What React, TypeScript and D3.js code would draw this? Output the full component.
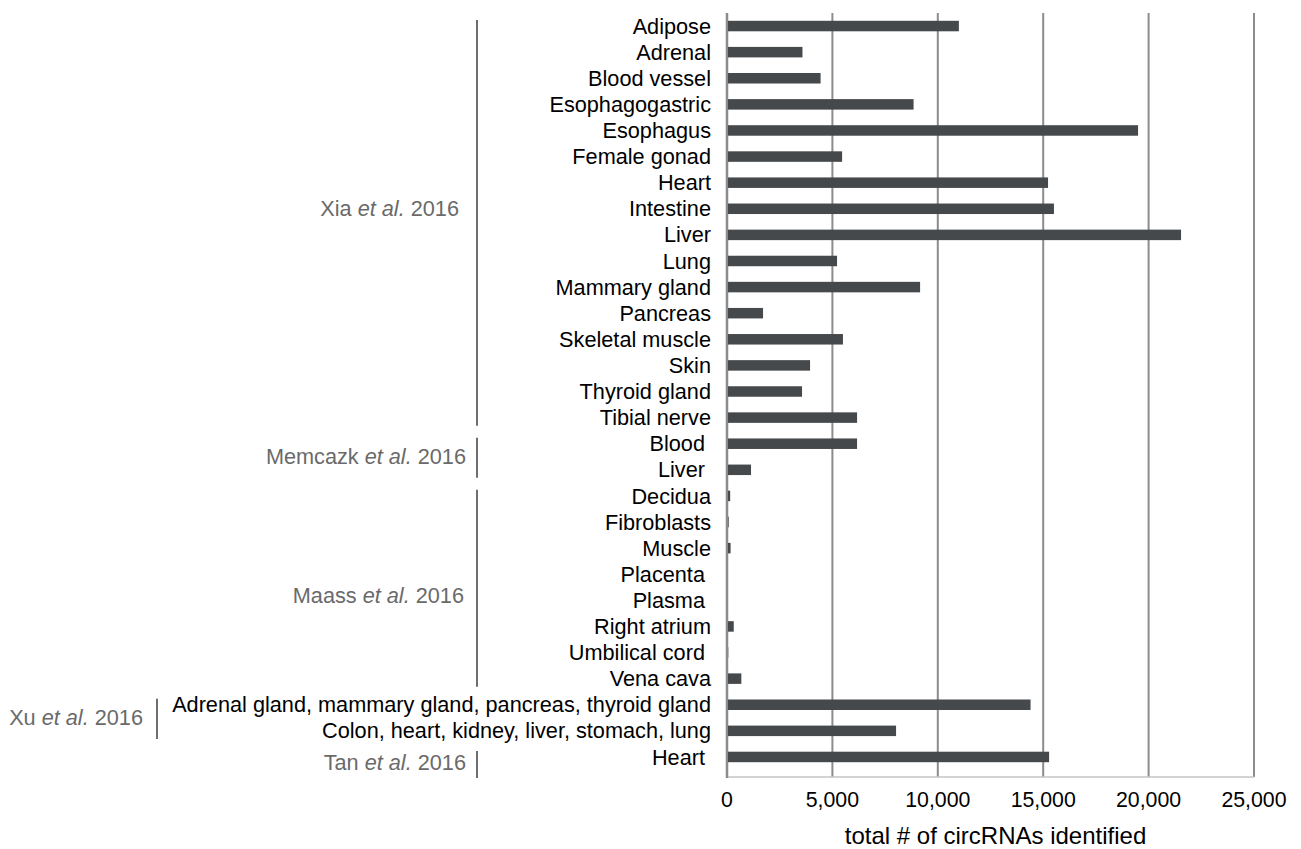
import React from "react";
import * as d3 from "d3";

const categories = [
  "Adipose", "Adrenal", "Blood vessel", "Esophagogastric", "Esophagus", "Female gonad",
  "Heart", "Intestine", "Liver", "Lung", "Mammary gland", "Pancreas", "Skeletal muscle",
  "Skin", "Thyroid gland", "Tibial nerve", "Blood ", "Liver ", "Decidua", "Fibroblasts",
  "Muscle", "Placenta ", "Plasma ", "Right atrium", "Umbilical cord ", "Vena cava",
  "Adrenal gland, mammary gland, pancreas, thyroid gland",
  "Colon, heart, kidney, liver, stomach, lung", "Heart ",
];

const values = [
  11000, 3580, 4440, 8850, 19500, 5460, 15230, 15510, 21540, 5220, 9160, 1710, 5500,
  3940, 3560, 6170, 6170, 1140, 150, 80, 170, 0, 0, 320, 60, 680, 14400, 8020, 15280,
];

const groupNames = ["Xia", "Memcazk", "Maass", "Xu", "Tan"];
const groupStart = [0, 16, 18, 26, 28];
const groupEnd = [15, 17, 25, 27, 28];
const groupLabelRow = [7, 16.5, 21.8, 26.5, 28.2];

const xTicks = [0, 5000, 10000, 15000, 20000, 25000];
const xTitle = "total # of circRNAs identified";

const FONT = "'Liberation Sans', Arial, Helvetica, sans-serif";

export default function App() {
  const W = 1301, H = 849;
  const x0 = 727, x1 = 1254;
  const top = 13, bottom = 770, axisY = 777;
  const x = d3.scaleLinear().domain([0, 25000]).range([x0, x1]);
  const y = d3.scaleBand<number>().domain(d3.range(categories.length)).range([top, bottom]);
  const step = y.step();
  const center = (i: number) => top + step * (i + 0.5);
  const barH = 10.5;
  const fmt = d3.format(",");

  const bracketX = [477, 477, 477, 157, 477];
  const labelX = [459, 466, 464, 143, 466];

  return (
    <svg width={W} height={H} style={{ position: "absolute", left: 0, top: 0 }} fontFamily={FONT}>
      <rect width={W} height={H} fill="#fff" />
      {xTicks.slice(1).map((t) => (
        <line key={t} x1={x(t)} x2={x(t)} y1={top} y2={axisY} stroke="#8c8c8c" strokeWidth={2} />
      ))}
      <line x1={x0} x2={x1} y1={axisY} y2={axisY} stroke="#c4c4c4" strokeWidth={1.5} />
      <line x1={x0} x2={x0} y1={top} y2={axisY + 1} stroke="#8c8c8c" strokeWidth={2.5} />
      {values.map((v, i) => (
        <rect key={i} x={x0 + 1} y={center(i) - barH / 2} width={Math.max(0, x(v) - x0 - 1)} height={barH} fill="#45494c" />
      ))}
      {categories.map((c, i) => (
        <text key={i} x={711} y={center(i)} dy="0.35em" textAnchor="end" fontSize={21.7} fill="#000" style={{ whiteSpace: "pre" }}>
          {c}
        </text>
      ))}
      {xTicks.map((t) => (
        <text key={t} x={x(t)} y={807} textAnchor="middle" fontSize={21.3} fill="#000">
          {fmt(t)}
        </text>
      ))}
      <text x={(x0 + x1) / 2 + 5} y={844} textAnchor="middle" fontSize={24} fill="#000">
        {xTitle}
      </text>
      {groupNames.map((g, k) => {
        const y1 = top + step * groupStart[k] + 7;
        const y2 = k === 4 ? axisY + 1 : top + step * (groupEnd[k] + 1) - 5;
        return (
          <g key={g}>
            <line x1={bracketX[k]} x2={bracketX[k]} y1={y1} y2={y2} stroke="#6e6e6e" strokeWidth={2} />
            <text x={labelX[k]} y={center(groupLabelRow[k])} dy="0.35em" textAnchor="end" fontSize={21.7} fill="#6a6a6a">
              {g + " "}
              <tspan fontStyle="italic">et al.</tspan>
              {" 2016"}
            </text>
          </g>
        );
      })}
    </svg>
  );
}
